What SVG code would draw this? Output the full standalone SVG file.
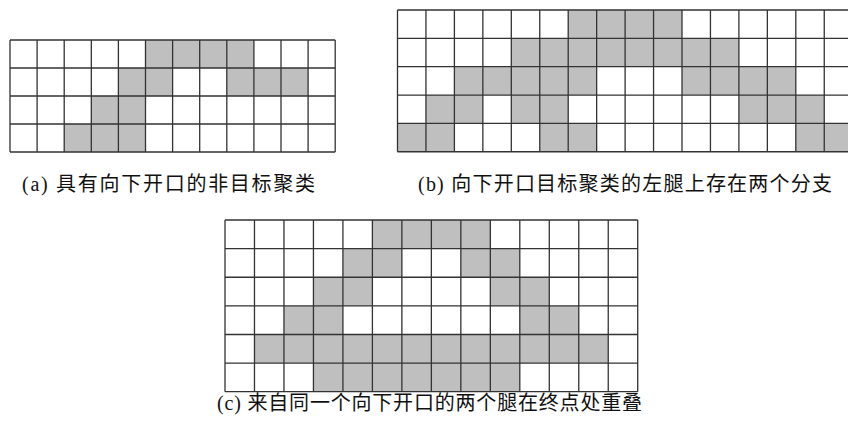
<svg xmlns="http://www.w3.org/2000/svg" width="848" height="427" viewBox="0 0 848 427">
<style>
.cell{fill:#bfbfbf;stroke:none}
.grid{fill:none;stroke:#333;stroke-width:1.3}
.cap{font-family:"Liberation Serif","Noto Sans CJK SC",serif;font-size:20px;fill:#111}
</style>
<rect width="848" height="427" fill="#fff"/>
<g id="grid-a">
<rect class="cell" x="145.5" y="40" width="108.4" height="28"/>
<rect class="cell" x="118.4" y="68" width="54.2" height="28"/>
<rect class="cell" x="226.8" y="68" width="81.3" height="28"/>
<rect class="cell" x="91.3" y="96" width="54.2" height="28"/>
<rect class="cell" x="64.2" y="124" width="81.3" height="28"/>
<path class="grid" d="M10 40V152M37.1 40V152M64.2 40V152M91.3 40V152M118.4 40V152M145.5 40V152M172.6 40V152M199.7 40V152M226.8 40V152M253.9 40V152M281 40V152M308.1 40V152M335.2 40V152M10 40H335.2M10 68H335.2M10 96H335.2M10 124H335.2M10 152H335.2"/>
</g>
<g id="grid-b">
<rect class="cell" x="568.2" y="10" width="113.8" height="28.35"/>
<rect class="cell" x="511.3" y="38.35" width="227.6" height="28.35"/>
<rect class="cell" x="454.4" y="66.7" width="142.25" height="28.35"/>
<rect class="cell" x="682" y="66.7" width="113.8" height="28.35"/>
<rect class="cell" x="425.95" y="95.05" width="56.9" height="28.35"/>
<rect class="cell" x="511.3" y="95.05" width="56.9" height="28.35"/>
<rect class="cell" x="738.9" y="95.05" width="85.35" height="28.35"/>
<rect class="cell" x="397.5" y="123.4" width="56.9" height="28.35"/>
<rect class="cell" x="539.75" y="123.4" width="56.9" height="28.35"/>
<rect class="cell" x="795.8" y="123.4" width="56.9" height="28.35"/>
<path class="grid" d="M397.5 10V151.75M425.95 10V151.75M454.4 10V151.75M482.85 10V151.75M511.3 10V151.75M539.75 10V151.75M568.2 10V151.75M596.65 10V151.75M625.1 10V151.75M653.55 10V151.75M682 10V151.75M710.45 10V151.75M738.9 10V151.75M767.35 10V151.75M795.8 10V151.75M824.25 10V151.75M852.7 10V151.75M397.5 10H852.7M397.5 38.35H852.7M397.5 66.7H852.7M397.5 95.05H852.7M397.5 123.4H852.7M397.5 151.75H852.7"/>
</g>
<g id="grid-c">
<rect class="cell" x="372.4" y="220" width="117.92" height="28.62"/>
<rect class="cell" x="342.92" y="248.62" width="58.96" height="28.62"/>
<rect class="cell" x="460.84" y="248.62" width="58.96" height="28.62"/>
<rect class="cell" x="313.44" y="277.24" width="58.96" height="28.62"/>
<rect class="cell" x="490.32" y="277.24" width="58.96" height="28.62"/>
<rect class="cell" x="283.96" y="305.86" width="58.96" height="28.62"/>
<rect class="cell" x="519.8" y="305.86" width="58.96" height="28.62"/>
<rect class="cell" x="254.48" y="334.48" width="353.76" height="28.62"/>
<rect class="cell" x="313.44" y="363.1" width="206.36" height="28.62"/>
<path class="grid" d="M225 220V391.72M254.48 220V391.72M283.96 220V391.72M313.44 220V391.72M342.92 220V391.72M372.4 220V391.72M401.88 220V391.72M431.36 220V391.72M460.84 220V391.72M490.32 220V391.72M519.8 220V391.72M549.28 220V391.72M578.76 220V391.72M608.24 220V391.72M637.72 220V391.72M225 220H637.72M225 248.62H637.72M225 277.24H637.72M225 305.86H637.72M225 334.48H637.72M225 363.1H637.72M225 391.72H637.72"/>
</g>
<g id="captions">
<text class="cap" x="22" y="191" textLength="293" lengthAdjust="spacing">(a) 具有向下开口的非目标聚类</text>
<text class="cap" x="418" y="191" textLength="414" lengthAdjust="spacing">(b) 向下开口目标聚类的左腿上存在两个分支</text>
<text class="cap" x="217" y="410" textLength="425" lengthAdjust="spacing">(c) 来自同一个向下开口的两个腿在终点处重叠</text>
</g>
</svg>
